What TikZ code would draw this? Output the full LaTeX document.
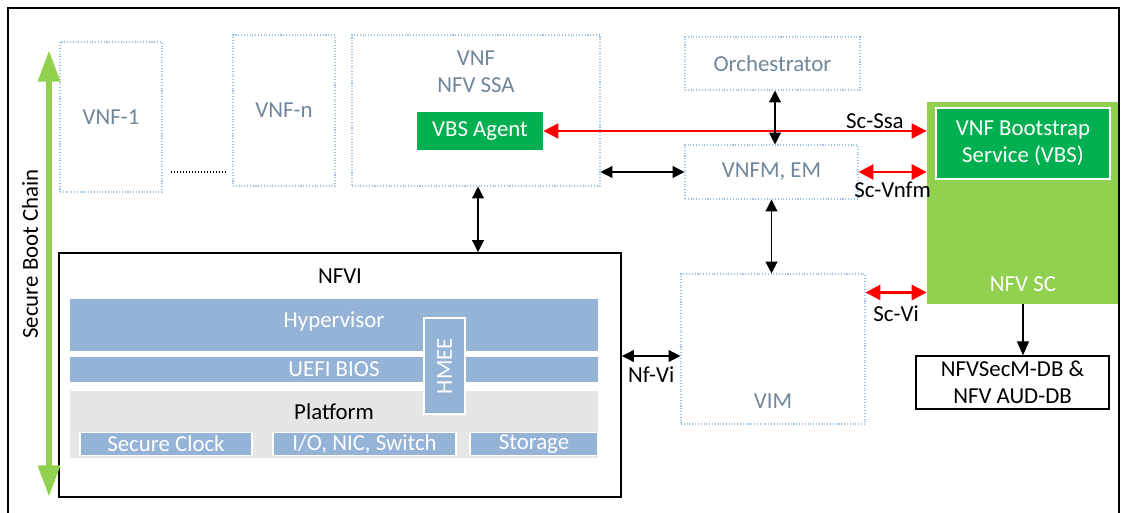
\documentclass[tikz,border=0pt]{standalone}
\usepackage{fontspec}
\setmainfont{Carlito}
\usetikzlibrary{arrows.meta,calc}
\definecolor{vnfgrey}{RGB}{112,134,154}
\definecolor{dotblue}{RGB}{157,195,230}
\definecolor{vbsgreen}{RGB}{0,176,80}
\definecolor{scgreen}{RGB}{146,208,80}
\definecolor{barblue}{RGB}{149,179,215}
\definecolor{platgrey}{RGB}{231,230,230}
\tikzset{every node/.append style={font=\fontsize{13}{15.3}\selectfont, inner sep=0pt}}
\tikzset{vnfbox/.style={draw=dotblue, densely dotted, line width=0.6pt, text=vnfgrey}}
\tikzset{greenbox/.style={fill=vbsgreen, text=white}}
\tikzset{bar/.style={fill=barblue, text=white}}
\tikzset{txt/.style={align=center}}
\tikzset{arc/.style={{Triangle[width=6.8pt,length=6.8pt]}-{Triangle[width=6.8pt,length=6.8pt]}, line width=0.7pt}}
\tikzset{redarc/.style={red, {Triangle[width=8.5pt,length=8.5pt]}-{Triangle[width=8.5pt,length=8.5pt]}, line width=#1}}
\tikzset{redarc/.default=1.7pt}
\tikzset{bootarc/.style={scgreen, {Triangle[width=12pt,length=18pt]}-{Triangle[width=12pt,length=18pt]}, line width=3.4pt}}

\begin{document}
\begin{tikzpicture}
  \useasboundingbox (0,0) rectangle (22.48,-10.26);
  \draw[line width=1.1pt] (0.16,-0.16) rectangle (22.38,-10.6);

  \node (vnf1) at (2.22,-2.34)[vnfbox, minimum width=2.04cm, minimum height=3cm]{VNF-1};
  \node (vnfn) at (5.68,-2.21)[vnfbox, minimum width=2.04cm, minimum height=3.02cm]{VNF-n};
  \node (ssa) at (9.52,-2.21)[vnfbox, minimum width=4.96cm, minimum height=3.02cm]{};
  \node (ssat) at (9.52,-1.43)[txt, text=vnfgrey]{VNF\\NFV SSA};
  \node (agent) at (9.6,-2.62)[greenbox, minimum width=2.52cm, minimum height=0.76cm]{VBS Agent};
  \node (orch) at (15.45,-1.27)[vnfbox, minimum width=3.5cm, minimum height=1.06cm]{Orchestrator};
  \node (vnfm) at (15.43,-3.44)[vnfbox, minimum width=3.46cm, minimum height=1.08cm]{VNFM, EM};
  \node (vim) at (15.46,-6.98)[vnfbox, minimum width=3.68cm, minimum height=3cm]{};
  \node (vimt) at (15.46,-8.02)[text=vnfgrey]{VIM};

  \node (sc) at (20.45,-4.06)[fill=scgreen, minimum width=3.82cm, minimum height=4.04cm]{};
  \node (sct) at (20.46,-5.68)[text=white]{NFV SC};
  \node (vbs) at (20.46,-2.87)[greenbox, txt, draw=white, line width=1.2pt, minimum width=3.48cm, minimum height=1.42cm]{VNF Bootstrap\\Service (VBS)};
  \node (db) at (20.25,-7.65)[draw, txt, line width=0.7pt, minimum width=3.86cm, minimum height=1.06cm]{NFVSecM-DB \&\\NFV AUD-DB};

  \node (nfvi) at (6.8,-7.5)[draw, line width=1.1pt, minimum width=11.24cm, minimum height=4.88cm]{};
  \node (nfvit) at (6.8,-5.52){NFVI};
  \node (hyp) at (6.68,-6.5)[bar, minimum width=10.56cm, minimum height=1.04cm]{};
  \node (hypt) at (6.68,-6.42)[text=white]{Hypervisor};
  \node (bios) at (6.68,-7.39)[bar, minimum width=10.56cm, minimum height=0.5cm]{UEFI BIOS};
  \node (plat) at (6.68,-8.49)[fill=platgrey, minimum width=10.56cm, minimum height=1.34cm]{};
  \node (platt) at (6.68,-8.24){Platform};
  \node (clock) at (3.32,-8.88)[bar, draw=white, line width=0.8pt, minimum width=3.44cm, minimum height=0.46cm]{Secure Clock};
  \node (nic) at (7.29,-8.88)[bar, draw=white, line width=0.8pt, minimum width=3.66cm, minimum height=0.46cm]{I/O, NIC, Switch};
  \node (stor) at (10.68,-8.88)[bar, draw=white, line width=0.8pt, minimum width=2.56cm, minimum height=0.46cm]{Storage};
  \node (hmee) at (8.89,-7.32)[bar, draw=white, line width=1.2pt, minimum width=0.82cm, minimum height=1.92cm]{\rotatebox{90}{HMEE}};

  \node (chain) at (0.6,-5.08)[rotate=90]{Secure Boot Chain};
  \coordinate (bt) at (0.98,-1.0);
  \coordinate (bb) at (0.98,-9.94);
  \draw[bootarc] (bt) -- (bb);

  \coordinate (d1) at (3.42,-3.44);
  \coordinate (d2) at (4.54,-3.44);
  \draw[densely dotted, line width=0.7pt] (d1) -- (d2);

  \draw[redarc=1pt] (agent.east) -- (agent.east -| sc.west) node [pos=0.865, above=1pt, text=black] {Sc-Ssa};
  \draw[redarc] (vnfm.east) -- (vnfm.east -| sc.west) node [midway, below=5pt, text=black] {Sc-Vnfm};
  \draw[redarc] ([yshift=-0.38cm]vim.north east) -- ([yshift=-0.38cm]vim.north east -| sc.west) node [midway, below=7pt, text=black] {Sc-Vi};

  \draw[arc] (vnfm.west -| ssa.east) -- (vnfm.west);
  \draw[arc] (orch.south -| 15.5,0) -- (vnfm.north -| 15.5,0);
  \draw[arc] (vnfm.south) -- (vim.north -| vnfm.south);
  \draw[arc] ([xshift=0.04cm]ssa.south) -- ([xshift=0.04cm]ssa.south |- nfvi.north);
  \draw[arc] ([yshift=-0.14cm]vim.west -| nfvi.east) -- ([yshift=-0.14cm]vim.west) node [midway, below=6pt] {Nf-Vi};
  \draw[-{Triangle[width=6.8pt,length=8pt]}, line width=0.7pt] (sc.south -| 20.46,0) -- (db.north -| 20.46,0);
\end{tikzpicture}
\end{document}
